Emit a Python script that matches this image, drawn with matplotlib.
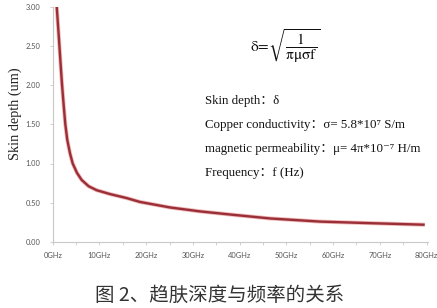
import matplotlib
matplotlib.use("Agg")
import matplotlib.pyplot as plt

# Data
freq_ghz = [0.86, 1.3, 1.71, 2.0, 2.35, 2.7, 3.12, 3.7, 4.28, 5.2, 6.2, 7.7, 9.4,
            12.3, 15.8, 18.7, 25.1, 31.5, 38.0, 46.5, 57.2, 67.9, 79.6]
depth_um = [3.00, 2.62, 2.25, 2.00, 1.74, 1.50, 1.30, 1.13, 1.00, 0.88, 0.79, 0.71, 0.66,
            0.61, 0.56, 0.51, 0.44, 0.39, 0.35, 0.30, 0.26, 0.24, 0.22]
x_ticks = [0, 10, 20, 30, 40, 50, 60, 70, 80]
x_tick_labels = ["0GHz", "10GHz", "20GHz", "30GHz", "40GHz", "50GHz", "60GHz", "70GHz", "80GHz"]
y_ticks = [0.0, 0.5, 1.0, 1.5, 2.0, 2.5, 3.0]
y_tick_labels = ["0.00", "0.50", "1.00", "1.50", "2.00", "2.50", "3.00"]
caption = "图 2、趋肤深度与频率的关系"
info_lines = ["Skin depth：δ",
              "Copper conductivity：σ= 5.8*10⁷ S/m",
              "magnetic permeability：μ= 4π*10⁻⁷ H/m",
              "Frequency：f (Hz)"]

W, H = 437, 308
fig = plt.figure(figsize=(W / 100, H / 100), dpi=100)
plt.rcParams['mathtext.fontset'] = 'stix'

left, right, top, bottom = 52.7, 428, 6.5, 242
ax = fig.add_axes([left / W, 1 - bottom / H, (right - left) / W, (bottom - top) / H])

ax.plot(freq_ghz, depth_um, color="#f0b8b8", lw=2.9, solid_capstyle="butt", zorder=2)
ax.plot(freq_ghz, depth_um, color="#9a2f37", lw=1.7, solid_capstyle="butt", zorder=3)

ax.set_xlim(0, 80.3)
ax.set_ylim(0, 3.0)
ax.set_xticks(x_ticks)
ax.set_xticklabels(x_tick_labels)
ax.set_xticks([5, 15, 25, 35, 45, 55, 65, 75], minor=True)
ax.set_yticks(y_ticks)
ax.set_yticklabels(y_tick_labels)

for s in ["top", "right"]:
    ax.spines[s].set_visible(False)
for s in ["left", "bottom"]:
    ax.spines[s].set_color("#c8c8c8")
    ax.spines[s].set_linewidth(0.8)

ax.tick_params(axis="both", which="both", length=2.5, width=0.6, color="#c8c8c8", pad=3)
for lab in ax.get_xticklabels() + ax.get_yticklabels():
    lab.set_fontfamily(["Lato", "DejaVu Sans"])
    lab.set_fontsize(5.4)
    lab.set_color("#555555")
ax.tick_params(axis="x", pad=5)
ax.tick_params(axis="y", pad=6.5)

fig.text(15 / W, 1 - 114 / H, "Skin depth (um)", rotation=90, ha="center", va="center",
         family=["Liberation Serif"], fontsize=10.3, color="#222222")

# formula
fig.text(250 / W, 1 - 46 / H, r"$\mathrm{\delta}\!=\!\sqrt{\dfrac{1}{\mathrm{\pi\mu\sigma f}}}$",
         ha="left", va="center", fontsize=11, color="#111111")

ys = [101, 125, 149, 173]
for y, t in zip(ys, info_lines):
    fig.text(205 / W, 1 - y / H, t, ha="left", va="center",
             family=["Liberation Serif", "Noto Sans CJK SC", "DejaVu Serif"], fontsize=9.3, color="#111111")

fig.text(220 / W, 1 - 295 / H, caption, ha="center", va="center",
         family=["Noto Sans CJK SC", "DejaVu Sans"], fontsize=14, color="#333333")

fig.savefig("out.png", dpi=100)
